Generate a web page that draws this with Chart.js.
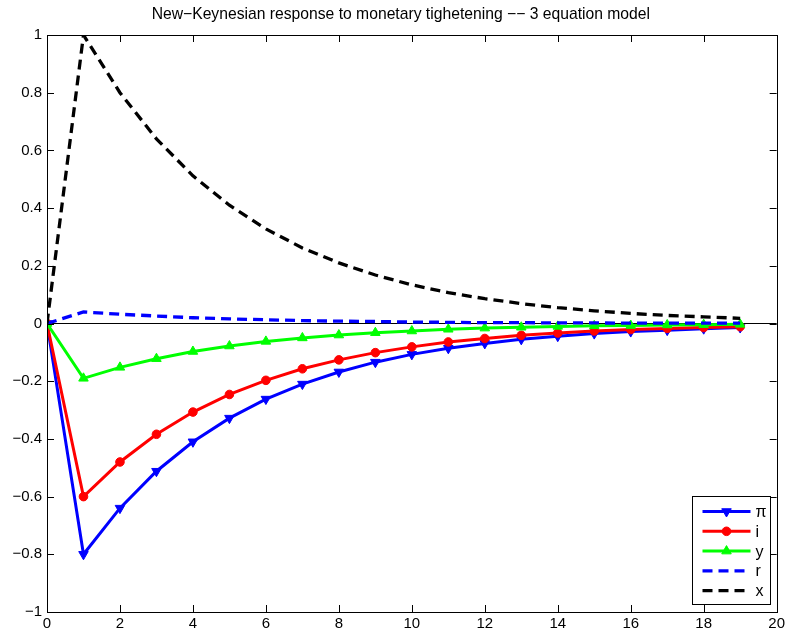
<!DOCTYPE html>
<html>
<head>
<meta charset="utf-8">
<script src="https://cdn.jsdelivr.net/npm/chart.js@4.4.1/dist/chart.umd.min.js"></script>
<style>
  html, body { margin: 0; padding: 0; background: #fff; }
  #wrap { width: 788px; height: 634px; }
</style>
</head>
<body>
<div id="wrap"><canvas id="irf"></canvas></div>
<script>
// periods after the shock
var periods = [0, 1, 2, 3, 4, 5, 6, 7, 8, 9, 10, 11, 12, 13, 14, 15, 16, 17, 18, 19];

// impulse responses
var piResp = [0, -0.8, -0.64, -0.512, -0.41, -0.328, -0.262, -0.21, -0.168, -0.134, -0.107, -0.086, -0.069, -0.055, -0.044, -0.035, -0.028, -0.023, -0.018, -0.014];
var iResp  = [0, -0.6, -0.48, -0.384, -0.307, -0.246, -0.197, -0.157, -0.126, -0.101, -0.081, -0.064, -0.052, -0.041, -0.033, -0.026, -0.021, -0.017, -0.014, -0.011];
var yResp  = [0, -0.19, -0.152, -0.122, -0.097, -0.078, -0.062, -0.05, -0.04, -0.032, -0.026, -0.02, -0.016, -0.013, -0.01, -0.008, -0.007, -0.005, -0.004, -0.003];
var rResp  = [0, 0.04, 0.032, 0.026, 0.02, 0.016, 0.013, 0.01, 0.008, 0.007, 0.005, 0.004, 0.003, 0.003, 0.002, 0.002, 0.001, 0.001, 0.001, 0.001];
var xResp  = [0, 1, 0.8, 0.64, 0.512, 0.41, 0.328, 0.262, 0.21, 0.168, 0.134, 0.107, 0.086, 0.069, 0.055, 0.044, 0.035, 0.028, 0.023, 0.018];

var seriesNames = ['\u03c0', 'i', 'y', 'r', 'x'];
var xTicks = [0, 2, 4, 6, 8, 10, 12, 14, 16, 18, 20];
var titleText = 'New\u2212Keynesian response to monetary tighetening \u2212\u2212 3 equation model';

var FONT = '"Liberation Sans", Arial, Helvetica, sans-serif';

function pts(vals) {
  return periods.map(function (p, k) { return { x: p, y: vals[k] }; });
}

function fmt(v) {
  var s = String(Math.round(v * 10) / 10);
  return s.charAt(0) === '-' ? '\u2212' + s.slice(1) : s;
}

// title above the plot box
var titlePlugin = {
  id: 'axTitle',
  afterDraw: function (chart) {
    var ctx = chart.ctx, a = chart.chartArea;
    ctx.save();
    ctx.fillStyle = '#000';
    ctx.font = '15.7px ' + FONT;
    ctx.textAlign = 'center';
    ctx.textBaseline = 'middle';
    ctx.fillText(titleText, (a.left + a.right) / 2 - 11, 15);
    ctx.restore();
  }
};

// MATLAB style box with inward ticks on all four sides
var boxPlugin = {
  id: 'box',
  afterDatasetsDraw: function (chart) {
    var ctx = chart.ctx, a = chart.chartArea;
    var xs = chart.scales.x, ys = chart.scales.y;
    var len = 7;
    ctx.save();
    ctx.strokeStyle = '#000';
    ctx.lineWidth = 1;
    ctx.beginPath();
    xs.ticks.forEach(function (t) {
      var px = Math.round(xs.getPixelForValue(t.value)) + 0.5;
      ctx.moveTo(px, a.bottom); ctx.lineTo(px, a.bottom - len);
      ctx.moveTo(px, a.top); ctx.lineTo(px, a.top + len);
    });
    ys.ticks.forEach(function (t) {
      var py = Math.round(ys.getPixelForValue(t.value)) + 0.5;
      ctx.moveTo(a.left, py); ctx.lineTo(a.left + len, py);
      ctx.moveTo(a.right, py); ctx.lineTo(a.right - len, py);
    });
    ctx.stroke();
    ctx.strokeRect(Math.round(a.left) + 0.5, Math.round(a.top) + 0.5,
                   Math.round(a.right - a.left), Math.round(a.bottom - a.top));
    ctx.restore();
  }
};

// legend box in the lower right corner
var legendPlugin = {
  id: 'boxLegend',
  afterDraw: function (chart) {
    var ctx = chart.ctx, a = chart.chartArea;
    var w = 78, h = 108;
    var bx = Math.round(a.right - 7 - w) + 0.5;
    var by = Math.round(a.bottom - 8 - h) + 0.5;
    ctx.save();
    ctx.fillStyle = '#fff';
    ctx.fillRect(bx, by, w, h);
    ctx.strokeStyle = '#000';
    ctx.lineWidth = 1;
    ctx.strokeRect(bx, by, w, h);
    chart.data.datasets.forEach(function (ds, k) {
      var cy = by + 15 + k * 19.8;
      ctx.save();
      ctx.strokeStyle = ds.borderColor;
      ctx.lineWidth = ds.borderWidth;
      ctx.setLineDash(ds.borderDash || []);
      ctx.beginPath();
      ctx.moveTo(bx + 10, cy);
      ctx.lineTo(bx + 58, cy);
      ctx.stroke();
      ctx.restore();
      if (ds.pointRadius > 0) {
        ctx.save();
        ctx.fillStyle = ds.borderColor;
        ctx.strokeStyle = ds.borderColor;
        ctx.lineWidth = 1;
        Chart.helpers.drawPoint(ctx, {
          pointStyle: ds.pointStyle,
          rotation: ds.pointRotation || 0,
          radius: ds.pointRadius,
          borderWidth: 1
        }, bx + 34, cy);
        ctx.restore();
      }
      ctx.fillStyle = '#000';
      ctx.font = '16px ' + FONT;
      ctx.textBaseline = 'middle';
      ctx.fillText(seriesNames[k], bx + 63, cy + 1);
    });
    ctx.restore();
  }
};

var datasets = [
  { label: seriesNames[0], data: pts(piResp), borderColor: '#0000ff', backgroundColor: '#0000ff',
    borderWidth: 3, pointStyle: 'triangle', pointRotation: 180, pointRadius: 5.5, order: 4 },
  { label: seriesNames[1], data: pts(iResp), borderColor: '#ff0000', backgroundColor: '#ff0000',
    borderWidth: 3, pointStyle: 'circle', pointRadius: 4.3, order: 3 },
  { label: seriesNames[2], data: pts(yResp), borderColor: '#00ff00', backgroundColor: '#00ff00',
    borderWidth: 3, pointStyle: 'triangle', pointRadius: 5.5, order: 2 },
  { label: seriesNames[3], data: pts(rResp), borderColor: '#0000ff', backgroundColor: '#0000ff',
    borderWidth: 3.3, borderDash: [10, 6], pointRadius: 0, order: 1 },
  { label: seriesNames[4], data: pts(xResp), borderColor: '#000000', backgroundColor: '#000000',
    borderWidth: 3.3, borderDash: [10, 6], pointRadius: 0, order: 0 }
];

datasets.forEach(function (d) {
  d.pointBorderWidth = 1;
  d.pointBorderColor = d.borderColor;
  d.pointBackgroundColor = d.borderColor;
  d.tension = 0;
  d.fill = false;
});

new Chart(document.getElementById('irf'), {
  type: 'line',
  data: { datasets: datasets },
  options: {
    responsive: true,
    maintainAspectRatio: false,
    animation: false,
    devicePixelRatio: 1,
    layout: { padding: { left: 0, right: 10, top: 35, bottom: 0 } },
    plugins: {
      legend: { display: false },
      tooltip: { enabled: false },
      title: { display: false }
    },
    scales: {
      x: {
        type: 'linear',
        min: 0, max: 20,
        afterBuildTicks: function (s) { s.ticks = xTicks.map(function (v) { return { value: v }; }); },
        afterFit: function (s) { s.height = 22; },
        grid: { display: false, drawTicks: false },
        border: { display: true, color: '#000', width: 1 },
        ticks: { color: '#000', padding: 3, maxRotation: 0,
                 font: { family: FONT, size: 15 }, callback: function (v) { return fmt(v); } }
      },
      y: {
        min: -1, max: 1,
        ticks: { stepSize: 0.2, color: '#000', padding: 5,
                 font: { family: FONT, size: 15 }, callback: function (v) { return fmt(v); } },
        afterFit: function (s) { s.width = 47; },
        grid: {
          drawTicks: false,
          lineWidth: 1,
          color: function (c) { return c.tick && Math.abs(c.tick.value) < 1e-9 ? '#000' : 'rgba(0,0,0,0)'; }
        },
        border: { display: true, color: '#000', width: 1 }
      }
    }
  },
  plugins: [titlePlugin, boxPlugin, legendPlugin]
});
</script>
</body>
</html>
